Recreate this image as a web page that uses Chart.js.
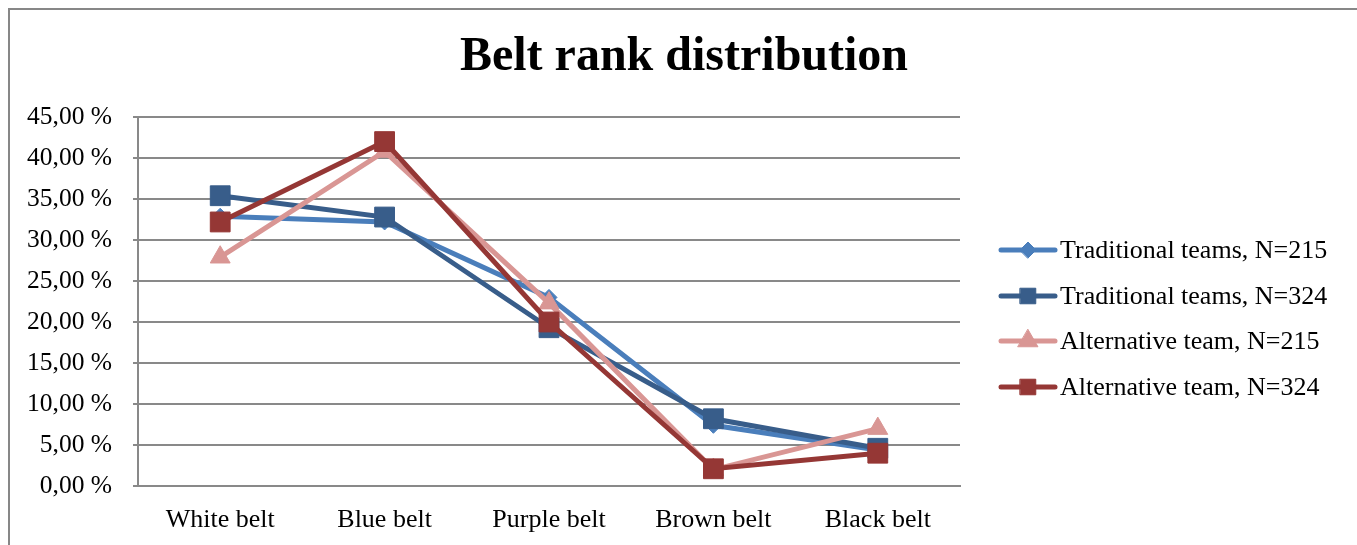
<!DOCTYPE html>
<html>
<head>
<meta charset="utf-8">
<title>Belt rank distribution</title>
<script src="https://cdn.jsdelivr.net/npm/chart.js@4"></script>
<style>
  html, body { margin: 0; padding: 0; background: #fff; overflow: hidden; }
  #wrap { position: relative; width: 1357px; height: 545px; }
  #frame {
    position: absolute; left: 8px; top: 8px; width: 1400px; height: 600px;
    border-left: 2px solid #878787; border-top: 2px solid #878787;
    pointer-events: none;
  }
  canvas { position: absolute; left: 0; top: 0; }
</style>
</head>
<body>
<div id="wrap">
  <canvas id="belt-chart" width="1357" height="545"></canvas>
  <div id="frame"></div>
</div>
<script>
// values, in percent
const belts = ["White belt", "Blue belt", "Purple belt", "Brown belt", "Black belt"];
const traditional215 = [32.9, 32.2, 23.0, 7.4, 4.4];
const traditional324 = [35.4, 32.8, 19.3, 8.2, 4.6];
const alternative215 = [27.9, 40.8, 22.3, 2.0, 7.0];
const alternative324 = [32.2, 42.0, 20.0, 2.1, 4.0];
const seriesNames = [
  "Traditional teams, N=215",
  "Traditional teams, N=324",
  "Alternative team, N=215",
  "Alternative team, N=324"
];
const yTicks = [0, 5, 10, 15, 20, 25, 30, 35, 40, 45];
const chartTitle = "Belt rank distribution";

const serif = "'Liberation Serif', 'Times New Roman', serif";
const gridGray = "#898989";

function series(label, data, color, style, radius, order) {
  return {
    label: label,
    data: data,
    borderColor: color,
    backgroundColor: color,
    borderWidth: 5,
    pointStyle: style,
    pointRadius: radius,
    pointHoverRadius: radius,
    pointBorderWidth: 1,
    pointBorderColor: color,
    pointBackgroundColor: color,
    tension: 0,
    order: order
  };
}

// title centred on the whole picture, like the original
const pageTitle = {
  id: "pageTitle",
  afterDraw(chart) {
    const ctx = chart.ctx;
    ctx.save();
    ctx.fillStyle = "#000";
    ctx.font = "bold 48px " + serif;
    ctx.textAlign = "center";
    ctx.textBaseline = "middle";
    ctx.fillText(chartTitle, 684, 58);
    ctx.restore();
  }
};

// legend drawn on the right, line + marker like the original
const sideLegend = {
  id: "sideLegend",
  afterDraw(chart) {
    const ctx = chart.ctx;
    const x0 = 998, x1 = 1058;
    const rows = [250, 296, 341, 387];
    ctx.save();
    chart.data.datasets.forEach((ds, i) => {
      const y = rows[i];
      ctx.strokeStyle = ds.borderColor;
      ctx.lineWidth = 5;
      ctx.lineCap = "round";
      ctx.beginPath();
      ctx.moveTo(x0 + 3, y);
      ctx.lineTo(x1 - 3, y);
      ctx.stroke();
      ctx.fillStyle = ds.backgroundColor;
      ctx.strokeStyle = ds.borderColor;
      ctx.lineWidth = 1;
      Chart.helpers.drawPoint(ctx, {
        pointStyle: ds.pointStyle,
        radius: ds.pointStyle === "rect" ? 11 : ds.pointRadius,
        rotation: 0,
        borderWidth: 1
      }, (x0 + x1) / 2, y);
      ctx.fillStyle = "#000";
      ctx.font = "26px " + serif;
      ctx.textAlign = "left";
      ctx.textBaseline = "middle";
      ctx.fillText(ds.label, x1 + 2, y + 1);
    });
    ctx.restore();
  }
};

new Chart(document.getElementById("belt-chart").getContext("2d"), {
  type: "line",
  data: {
    labels: belts,
    datasets: [
      series(seriesNames[0], traditional215, "#4A7EBB", "rectRot", 8, 4),
      series(seriesNames[1], traditional324, "#385D8A", "rect", 14, 3),
      series(seriesNames[2], alternative215, "#D99694", "triangle", 11.5, 2),
      series(seriesNames[3], alternative324, "#953735", "rect", 14, 1)
    ]
  },
  options: {
    responsive: false,
    animation: false,
    layout: { padding: { left: 0, right: 397, top: 117, bottom: 0 } },
    plugins: {
      legend: { display: false },
      tooltip: { enabled: false },
      title: { display: false }
    },
    scales: {
      x: {
        offset: true,
        grid: { display: false, drawTicks: false },
        border: { display: true, color: gridGray, width: 2 },
        ticks: {
          color: "#000",
          padding: 19,
          maxRotation: 0,
          font: { family: serif, size: 26 }
        },
        afterFit(scale) { scale.height = 59; }
      },
      y: {
        min: 0,
        max: 45,
        afterBuildTicks(scale) { scale.ticks = yTicks.map(v => ({ value: v })); },
        grid: { color: gridGray, lineWidth: 2, tickLength: 5 },
        border: { display: true, color: gridGray, width: 2 },
        ticks: {
          color: "#000",
          padding: 21,
          font: { family: serif, size: 25.5 },
          callback: v => v.toFixed(2).replace(".", ",") + " %"
        },
        afterFit(scale) { scale.width = 138; }
      }
    }
  },
  plugins: [pageTitle, sideLegend]
});
</script>
</body>
</html>
